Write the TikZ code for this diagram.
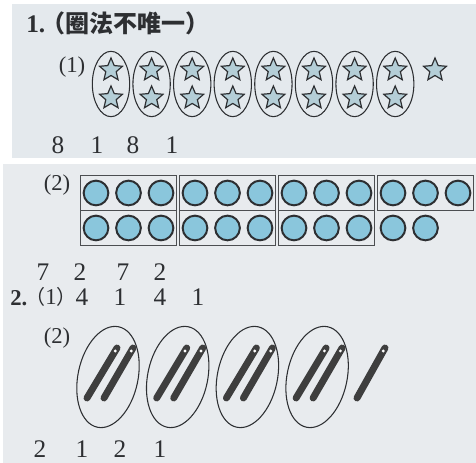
\documentclass[tikz,border=0pt]{standalone}
\usepackage{fontspec}
\setmainfont{Liberation Serif}
\newfontfamily\cjk{Noto Sans CJK SC}
\usetikzlibrary{shapes.geometric, fit, positioning}
\definecolor{panelbg}{RGB}{228, 233, 237}
\definecolor{panelbgb}{RGB}{232, 235, 238}
\definecolor{inkgray}{RGB}{45, 47, 50}
\definecolor{starfill}{RGB}{180, 206, 215}
\definecolor{ballfill}{RGB}{138, 198, 220}
\definecolor{stickgray}{RGB}{62, 62, 62}

\begin{document}
\begin{tikzpicture}[x=0.75pt, y=-0.75pt,
          num/.style={font=\fontsize{19}{22}\selectfont,
                      text=inkgray, inner sep=0pt},
          lab/.style={font=\fontsize{17}{20}\selectfont,
                      text=inkgray, inner sep=0pt},
          st/.style={star, star points=5, star point ratio=2.2,
                     minimum size=18pt, inner sep=0pt,
                     fill=starfill, draw=inkgray, line width=0.9pt},
          ring/.style={ellipse, draw=inkgray, line width=0.8pt,
                       minimum width=28pt, minimum height=49pt,
                       inner sep=0pt},
          ball/.style={circle, minimum size=18.5pt, inner sep=0pt,
                       fill=ballfill, draw=inkgray, line width=1.5pt},
          grp/.style={draw=inkgray!85, line width=1.1pt,
                      inner xsep=1.5pt, inner ysep=3pt},
          bundle/.style={ellipse, draw=inkgray, line width=0.8pt,
                         minimum width=45pt, minimum height=77pt,
                         inner sep=0pt, rotate=-12},
          stick/.style={draw=stickgray, line width=5.2pt,
                        line cap=round},
      ]
      \useasboundingbox (0,0) rectangle (476,463);
      \fill[panelbg] (12,4) rectangle (476,158);
      \fill[panelbgb] (3,164) rectangle (476,463);

      % part 1
      \node[anchor=west, inner sep=0pt, text=inkgray,
            font=\fontsize{19}{22}\selectfont\bfseries] (t1)
          at (26,24) {1.};
      \node[anchor=west, inner sep=0pt, text=inkgray,
            font=\cjk\bfseries\fontsize{18}{20}\selectfont] (t1b)
          at (41,23) {（圈法不唯一）};
      \node[lab] (p1) at (72,67) {(1)};

      % stars, two in each ring
      \foreach \i in {0,...,7} {
          \node[st] (sa\i) at (111+40.6*\i, 70) {};
          \node[st] (sb\i) at (111+40.6*\i, 98) {};
          \node[ring] (r\i) at (111+40.6*\i, 84) {};
      }
      \node[st] (sx) at (435,70) {};

      \node[num] (n1) at (58,145)  {8};
      \node[num] (n2) at (97,145)  {1};
      \node[num] (n3) at (133,145) {8};
      \node[num] (n4) at (172,145) {1};

      % part 1 (2): circles in boxes of three
      \node[lab] (p2) at (57,185) {(2)};
      \foreach \g in {0,...,3} {
          \foreach \j in {0,1,2}
              \node[ball] (a\g\j) at (96+99*\g+32.5*\j, 193) {};
          \node[grp, fit=(a\g0)(a\g2)] (ba\g) {};
      }
      \foreach \g in {0,1,2} {
          \foreach \j in {0,1,2}
              \node[ball] (b\g\j) at (96+99*\g+32.5*\j, 228) {};
          \node[grp, fit=(b\g0)(b\g2)] (bb\g) {};
      }
      \node[ball] (b30) at (393,228) {};
      \node[ball] (b31) at (425.5,228) {};

      \node[num] (m1) at (43,272)  {7};
      \node[num] (m2) at (80,272)  {2};
      \node[num] (m3) at (123,272) {7};
      \node[num] (m4) at (160,272) {2};

      % part 2
      \node[anchor=west, inner sep=0pt, text=inkgray,
            font=\fontsize{17}{20}\selectfont\bfseries] (t2)
          at (10,298) {2.};
      \node[lab, anchor=west] (q1) at (25,297)
          {{\cjk\fontsize{15}{18}\selectfont （}1{\cjk\fontsize{15}{18}\selectfont ）}};
      \node[num] (k1) at (82,297)  {4};
      \node[num] (k2) at (120,297) {1};
      \node[num] (k3) at (160,297) {4};
      \node[num] (k4) at (198,297) {1};

      \node[lab] (q2) at (57,338) {(2)};

      % sticks, two in each bundle
      \foreach \k in {0,...,3} {
          \pgfmathsetmacro\cx{108+69.7*\k}
          \draw[stick] (\cx-21,398) -- (\cx+9,348);
          \draw[stick] (\cx-4,398) -- (\cx+25,348);
          \fill[white] (\cx+7.3,351) circle (1.2pt);
          \fill[white] (\cx+23.3,351) circle (1.2pt);
          \node[bundle] (e\k) at (\cx,377) {};
      }
      \draw[stick] (357,398) -- (385,348);
      \fill[white] (383.3,351) circle (1.2pt);

      \node[num] (h1) at (40,449)  {2};
      \node[num] (h2) at (82,449)  {1};
      \node[num] (h3) at (120,449) {2};
      \node[num] (h4) at (160,449) {1};
      \end{tikzpicture}
\end{document}
